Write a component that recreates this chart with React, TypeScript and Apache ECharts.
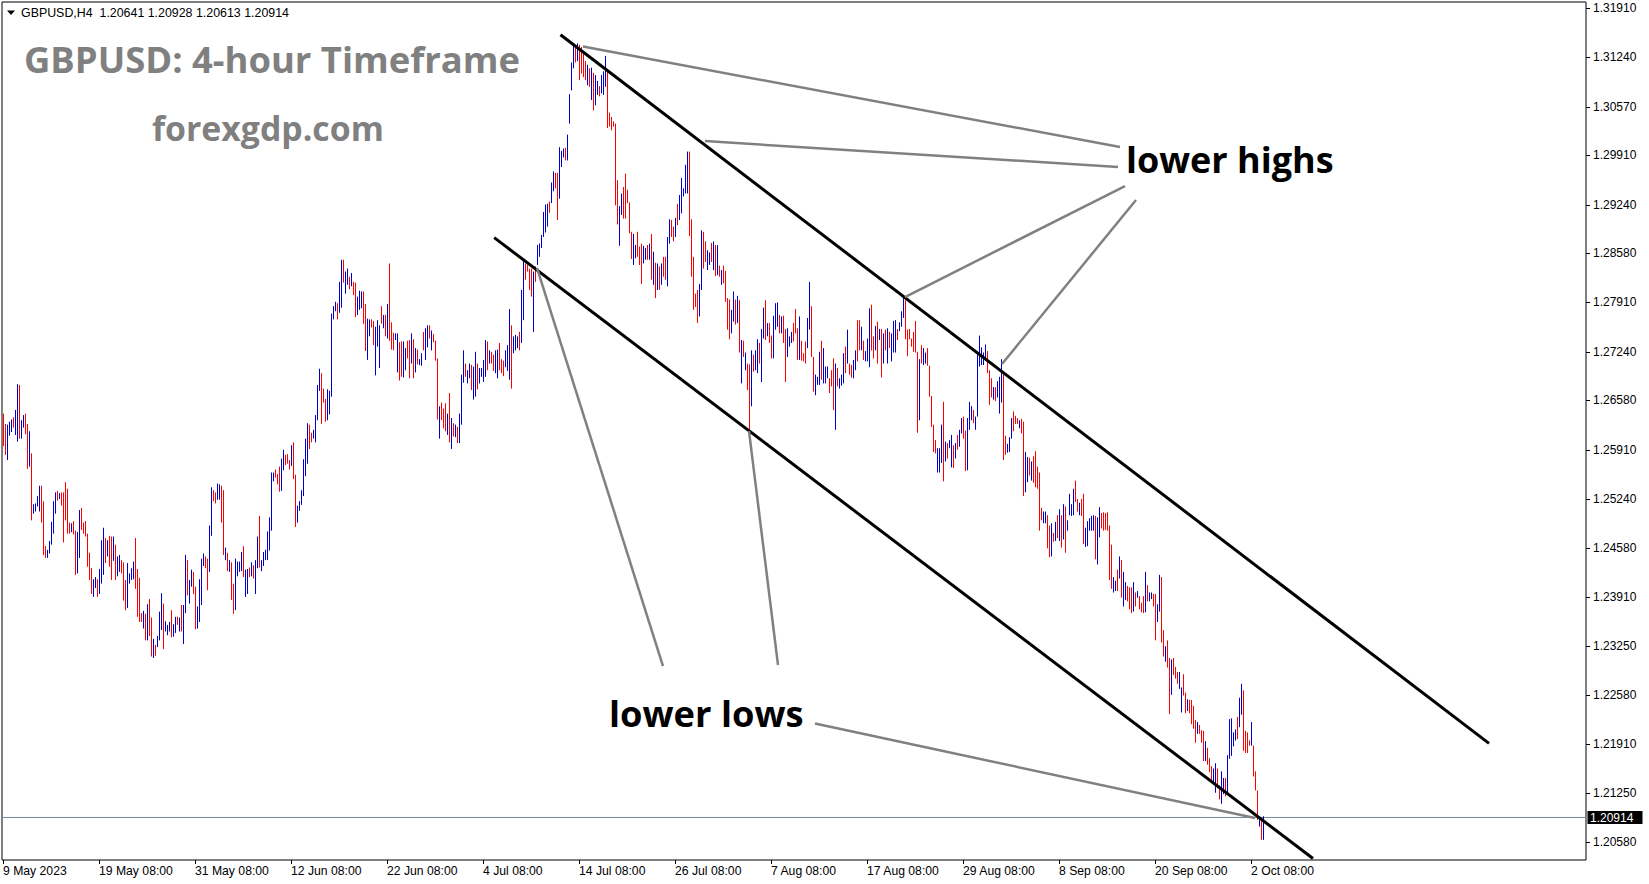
import React, { useEffect, useRef } from "react";
import * as echarts from "echarts";

// ---------- texts ----------
const SYMBOL = "GBPUSD,H4";
const HEADER_OHLC = ["1.20641", "1.20928", "1.20613", "1.20914"];
const TITLE = "GBPUSD: 4-hour Timeframe";
const SUBTITLE = "forexgdp.com";
const LABEL_HIGHS = "lower highs";
const LABEL_LOWS = "lower lows";

// ---------- price data (H4 bars, pips counted from PRICE_BASE) ----------
const PRICE_BASE = 1.2;
const PIP = 0.0001;

const highPips = [
  640, 626, 625, 629, 632, 635, 645, 680, 679, 631,
  638, 640, 626, 616, 586, 517, 518, 528, 542, 542,
  521, 460, 455, 467, 493, 521, 533, 535, 532, 533,
  533, 547, 538, 492, 491, 494, 481, 479, 509, 512,
  492, 494, 477, 451, 430, 415, 418, 415, 429, 468,
  485, 471, 468, 474, 473, 473, 462, 446, 448, 441,
  438, 414, 437, 423, 430, 439, 471, 429, 417, 369,
  372, 368, 381, 388, 363, 334, 326, 338, 371, 396,
  382, 358, 353, 357, 373, 354, 364, 364, 363, 380,
  380, 448, 441, 414, 428, 425, 405, 378, 415, 443,
  450, 446, 443, 488, 540, 536, 533, 545, 544, 542,
  536, 458, 451, 441, 438, 409, 443, 439, 439, 452,
  460, 428, 429, 431, 438, 434, 441, 473, 501, 441,
  452, 455, 480, 499, 560, 560, 564, 558, 568, 579,
  591, 584, 585, 577, 597, 601, 557, 515, 521, 536,
  578, 606, 627, 625, 614, 618, 638, 679, 701, 695,
  674, 660, 673, 671,
  776, 786, 792, 790, 819, 849, 849, 833, 837, 826,
  831, 819, 818, 799, 807, 806, 806, 789, 769, 768,
  768, 766, 758, 767, 760, 786, 774, 774, 789, 844,
  764, 750, 749, 749, 737, 738, 738, 729, 739, 740,
  749, 741, 729, 727, 714, 722, 751, 756, 760, 760,
  753, 748, 739, 715, 650, 655, 647, 654, 640, 668,
  634, 627, 625, 622, 640, 693, 726, 708, 699, 708,
  706, 704, 724, 708, 702, 702, 713, 740, 738, 726,
  724, 720, 726, 727, 736, 714, 712, 726, 733, 782,
  760, 745, 747, 745, 751, 808, 849, 844, 842, 837,
  837, 833, 840, 869, 871, 883, 914, 924, 925, 928,
  954, 969, 967, 967, 1002, 997, 1000, 1001, 1019, 1074,
  1117, 1142, 1139, 1143, 1141, 1138, 1129, 1119, 1114, 1109,
  1110, 1103, 1100, 1092, 1085, 1100, 1105, 1126, 1106, 1049,
  1043, 1037, 1034, 957, 922, 939, 948, 966, 944, 927,
  887, 884, 869, 887, 867, 871, 868, 865, 869, 871,
  884, 860, 845, 844, 840, 844, 853, 853, 880, 904,
  903, 894, 906, 925, 937, 960, 946, 978, 996, 996,
  904, 853, 803, 808, 816, 889, 887, 874, 862, 859,
  872, 874, 869, 869, 841, 835, 841, 834, 797, 795,
  781, 806, 795, 800, 794, 740, 739, 723, 708, 707,
  726, 720, 726, 741, 736, 755, 784, 794, 763, 763,
  746, 773, 790, 791, 774, 772, 773, 755, 756, 745,
  751, 763, 782, 756, 772, 739, 722, 738, 770, 819,
  786, 717, 693, 690, 724, 739, 729, 704, 704, 688,
  699, 715, 708, 702, 688, 693, 722, 731, 754, 708,
  706, 713, 726, 767, 767, 758, 739, 725, 742, 783,
  788, 745, 759, 765, 755, 755, 749, 754, 756, 751,
  749, 766, 767, 755, 764, 779, 797, 794, 754, 755,
  742, 751, 766, 724, 714, 733, 729, 723, 729, 705,
  664, 625, 604, 593, 593, 625, 656, 602, 600, 604,
  611, 597, 600, 611, 618,
  634, 636, 617, 634, 656, 650, 645, 636, 720, 746,
  730, 723, 734, 725, 699, 688, 676, 676, 684, 690,
  714, 697, 610, 599, 608, 634, 643, 637, 634, 631,
  633, 629, 588, 581, 580, 575, 582, 589, 568, 560,
  512, 507, 507, 502, 488, 491, 478, 493, 502, 510,
  502, 517, 514, 495, 531, 517, 538, 549, 524, 519,
  524, 531, 485, 494, 498, 501, 502, 501, 499, 513,
  505, 506, 505, 506, 488, 462, 418, 413, 428, 446,
  441, 425, 411, 406, 404, 404, 411, 397, 399, 392,
  383, 392, 425, 407, 397, 397, 395, 395, 381, 421,
  418, 346, 324, 332, 308, 306, 308, 296, 289, 289,
  268, 286, 261, 252, 251, 251, 243, 224, 221, 217,
  210, 209, 195, 186, 172, 161, 158, 165, 158, 135,
  154, 145, 145, 176, 225, 226, 207, 211, 228, 254,
  273, 264, 209, 207, 196, 221, 189, 154, 128, 93,
  90, 93,
];

const lowPips = [
  596, 584, 577, 610, 615, 621, 611, 602, 606, 606,
  621, 612, 565, 568, 495, 504, 507, 514, 507, 492,
  448, 444, 444, 450, 462, 477, 504, 522, 524, 515,
  465, 495, 477, 477, 479, 476, 421, 423, 444, 482,
  477, 473, 432, 414, 395, 391, 403, 391, 395, 409,
  421, 437, 446, 432, 414, 440, 414, 419, 425, 423,
  386, 373, 376, 409, 414, 415, 402, 364, 357, 357,
  348, 332, 332, 338, 310, 308, 311, 323, 332, 346,
  320, 344, 339, 344, 336, 337, 342, 353, 344, 344,
  327, 369, 393, 382, 405, 395, 347, 348, 357, 380,
  433, 430, 400, 425, 474, 521, 518, 523, 523, 492,
  448, 441, 426, 425, 387, 368, 373, 419, 425, 426,
  418, 391, 395, 418, 419, 416, 395, 430, 431, 426,
  433, 441, 441, 454, 481, 548, 553, 544, 534, 535,
  563, 570, 572, 564, 569, 551, 486, 492, 508, 516,
  528, 555, 572, 592, 601, 606, 601, 631, 671, 626,
  655, 629, 631, 639,
  663, 768, 779, 768, 777, 784, 818, 803, 815, 809,
  813, 801, 771, 774, 781, 783, 762, 725, 713, 745,
  757, 733, 692, 731, 702, 762, 756, 745, 742, 739,
  727, 726, 740, 696, 685, 690, 689, 699, 715, 688,
  708, 688, 696, 707, 706, 705, 726, 713, 730, 742,
  726, 737, 712, 632, 606, 631, 620, 616, 611, 601,
  592, 609, 608, 600, 600, 625, 682, 690, 681, 688,
  672, 659, 663, 673, 681, 690, 683, 690, 699, 708,
  708, 698, 695, 688, 699, 695, 691, 703, 698, 686,
  674, 722, 726, 729, 726, 736, 767, 822, 833, 808,
  799, 751, 819, 842, 853, 865, 880, 886, 894, 913,
  926, 942, 946, 903, 932, 975, 988, 984, 984, 1034,
  1079, 1109, 1117, 1119, 1093, 1102, 1097, 1093, 1086, 1084,
  1066, 1052, 1059, 1073, 1071, 1075, 1073, 1084, 1028, 1030,
  1025, 1030, 923, 897, 868, 910, 905, 905, 926, 885,
  850, 842, 851, 853, 842, 816, 844, 849, 849, 849,
  822, 815, 797, 808, 808, 815, 826, 822, 813, 871,
  880, 874, 880, 896, 903, 912, 935, 939, 939, 881,
  826, 781, 785, 763, 772, 808, 837, 846, 835, 842,
  846, 835, 827, 828, 826, 815, 817, 792, 754, 741,
  749, 765, 761, 763, 723, 681, 717, 699, 672, 618,
  650, 697, 699, 695, 708, 683, 742, 740, 745, 736,
  715, 715, 754, 758, 749, 749, 736, 683, 717, 731,
  736, 738, 749, 713, 713, 712, 711, 708, 729, 754,
  717, 670, 665, 679, 679, 686, 681, 681, 688, 668,
  677, 645, 618, 677, 674, 678, 681, 695, 708, 693,
  689, 688, 699, 711, 726, 726, 713, 711, 711, 703,
  726, 715, 726, 708, 740, 689, 708, 726, 708, 729,
  711, 723, 723, 740, 752, 758, 770, 741, 718, 741,
  731, 724, 723, 614, 631, 708, 706, 708, 705, 663,
  622, 588, 586, 560, 560, 573, 548, 575, 579, 593,
  567, 566, 579, 591, 595,
  613, 606, 562, 563, 618, 631, 627, 618, 636, 704,
  706, 706, 712, 695, 652, 662, 659, 657, 662, 640,
  655, 577, 584, 587, 588, 606, 616, 626, 626, 620,
  613, 528, 533, 547, 556, 549, 546, 540, 538, 481,
  495, 491, 491, 457, 445, 446, 466, 467, 471, 467,
  458, 469, 451, 481, 502, 501, 502, 520, 507, 502,
  501, 463, 459, 460, 481, 481, 481, 442, 435, 472,
  484, 481, 482, 481, 414, 402, 397, 399, 399, 416,
  390, 378, 387, 385, 374, 369, 371, 378, 390, 374,
  370, 369, 370, 385, 385, 388, 378, 332, 357, 371,
  329, 310, 303, 295, 232, 258, 285, 280, 273, 266,
  234, 257, 233, 236, 233, 218, 212, 193, 205, 205,
  193, 168, 168, 163, 153, 139, 137, 125, 131, 116,
  110, 123, 120, 122, 171, 175, 188, 196, 198, 214,
  231, 182, 179, 179, 189, 189, 147, 128, 88, 79,
  61, 61,
];

// u = bullish bar (blue), d = bearish bar (red)
const barDirs = [
  "dduuuduudu", "udduduuuud", "dduuuuudud", "ddddudduud", "ddddduuduu",
  "ududduduud", "dduuuudddd", "ududduduuu", "duuuduudud", "uuduudduuu",
  "udduudduud", "dududduuuu", "duududuudu", "uuuuuudddu", "udddudduuu",
  "uuudduuuud", "dduu",
  "uuuduuduud", "udduuudduu", "dduuududud", "dduudduudd", "ududuuduud",
  "udddudddud", "ududuuuduu", "duuduuuudu", "dduuddduuu", "duuuduuddd",
  "duduuuuuud", "uudduuuduu", "uududdddud", "uduuduuudd", "dddduudddd",
  "duuddduudu",
  "dudududduu", "dduduuuuud", "dddduudduu", "dudududddd", "uududududd",
  "uduuduudud", "duuududduu", "uddduddduu", "dduuuduuud", "dduduuudud",
  "duudduduuu", "ddudududud", "uuuduuuddd", "dddduduudd", "ddduuududu",
  "ududu",
  "udduuuduuu", "uuuddduduu", "udduuudddu", "dduududddd", "duuddududu",
  "duduuuuddu", "dduuuuuduu", "dddddduudu", "duudddudud", "dduduudduu",
  "dduddudddu", "udduddddud", "dduddduudd", "uuduuuuudu", "uddddudddu",
  "du",
].join("");

// ---------- axes ----------
const xTickLabels = [
  "9 May 2023", "19 May 08:00", "31 May 08:00", "12 Jun 08:00", "22 Jun 08:00",
  "4 Jul 08:00", "14 Jul 08:00", "26 Jul 08:00", "7 Aug 08:00", "17 Aug 08:00",
  "29 Aug 08:00", "8 Sep 08:00", "20 Sep 08:00", "2 Oct 08:00",
];
const BARS_PER_TICK = 48;
const TOTAL_SLOTS = 792;

const yTickLabels = [
  "1.31910", "1.31240", "1.30570", "1.29910", "1.29240", "1.28580",
  "1.27910", "1.27240", "1.26580", "1.25910", "1.25240", "1.24580",
  "1.23910", "1.23250", "1.22580", "1.21910", "1.21250", "1.20580",
];
const Y_MIN = 1.20336;
const Y_MAX = 1.31992;
const CURRENT_PRICE = 1.20914;

// ---------- drawn trend lines: [bar index, price] ----------
const channelUpper = [[278.75, 1.31547], [743, 1.2192]];
const channelLower = [[245.6, 1.28791], [655, 1.20356]];
const highPointers = [
  [[290, 1.31387], [558.5, 1.30022]],
  [[351, 1.30103], [557.5, 1.2975]],
  [[451, 1.27984], [561, 1.29492]],
  [[499.5, 1.27074], [566.5, 1.29302]],
];
const lowPointers = [
  [[267, 1.28378], [330, 1.22971]],
  [[373, 1.26163], [387.5, 1.22985]],
  [[406, 1.22191], [626, 1.20906]],
];

const RED = "#ff0000";
const BLUE = "#0000cd";
const GRAY = "#808080";
const BID_LINE = "#778899";
const AXIS_FONT = "'Liberation Sans', Arial, sans-serif";
const BIG_FONT = "'Open Sans', 'Noto Sans', sans-serif";

export default function App() {
  const ref = useRef<HTMLDivElement>(null);

  useEffect(() => {
    if (!ref.current) return;
    const chart = echarts.init(ref.current, null, { renderer: "svg" });

    const bars = highPips.map((h, i) => [
      i,
      PRICE_BASE + lowPips[i] * PIP,
      PRICE_BASE + h * PIP,
      barDirs[i] === "u" ? 1 : 0,
    ]);

    const xTickValues = xTickLabels.map((_, k) => k * BARS_PER_TICK);
    const yTickValues = yTickLabels.map((s) => parseFloat(s));

    const lineSeries = (data: number[][], color: string, width: number, z = 5) => ({
      type: "line",
      xAxisIndex: 0,
      yAxisIndex: 0,
      data,
      symbol: "none",
      silent: true,
      clip: true,
      lineStyle: { color, width },
      z,
    });

    const textGraphics: any[] = [
      {
        type: "polygon",
        silent: true,
        shape: { points: [[7, 10.5], [15, 10.5], [11, 15]] },
        style: { fill: "#000" },
      },
      {
        type: "text",
        silent: true,
        x: 21,
        y: 12.5,
        style: {
          text: `${SYMBOL}  ${HEADER_OHLC.join(" ")}`,
          fill: "#000",
          fontFamily: AXIS_FONT,
          fontSize: 12.4,
          textAlign: "left",
          textVerticalAlign: "middle",
        },
      },
      {
        type: "text",
        silent: true,
        x: 24,
        y: 59,
        style: {
          text: TITLE,
          fill: GRAY,
          fontFamily: BIG_FONT,
          fontWeight: "bold",
          fontSize: 36.4,
          textAlign: "left",
          textVerticalAlign: "middle",
        },
      },
      {
        type: "text",
        silent: true,
        x: 152,
        y: 128,
        style: {
          text: SUBTITLE,
          fill: GRAY,
          fontFamily: BIG_FONT,
          fontWeight: "bold",
          fontSize: 33.8,
          textAlign: "left",
          textVerticalAlign: "middle",
        },
      },
      {
        type: "text",
        silent: true,
        x: 1126,
        y: 159,
        style: {
          text: LABEL_HIGHS,
          fill: "#000",
          fontFamily: BIG_FONT,
          fontWeight: "bold",
          fontSize: 36,
          textAlign: "left",
          textVerticalAlign: "middle",
        },
      },
      {
        type: "text",
        silent: true,
        x: 609,
        y: 713,
        style: {
          text: LABEL_LOWS,
          fill: "#000",
          fontFamily: BIG_FONT,
          fontWeight: "bold",
          fontSize: 36.3,
          textAlign: "left",
          textVerticalAlign: "middle",
        },
      },
    ];

    const option: any = {
      animation: false,
      backgroundColor: "#ffffff",
      grid: {
        left: 2,
        top: 2,
        width: 1584,
        height: 858,
        show: true,
        borderColor: "#000",
        borderWidth: 1,
        backgroundColor: "transparent",
        containLabel: false,
      },
      xAxis: {
        type: "value",
        min: -0.5,
        max: TOTAL_SLOTS - 0.5,
        axisLine: { show: false },
        splitLine: { show: false },
        axisTick: { show: false },
        axisLabel: {
          show: true,
          customValues: xTickValues,
          formatter: (v: number) => xTickLabels[Math.round(v / BARS_PER_TICK)] ?? "",
          align: "left",
          margin: 5,
          color: "#000",
          fontFamily: AXIS_FONT,
          fontSize: 12.2,
        },
      },
      yAxis: {
        type: "value",
        position: "right",
        min: Y_MIN,
        max: Y_MAX,
        axisLine: { show: false },
        splitLine: { show: false },
        axisTick: { show: false },
        axisLabel: {
          show: true,
          customValues: yTickValues,
          formatter: (v: number) => v.toFixed(5),
          margin: 7,
          color: "#000",
          fontFamily: AXIS_FONT,
          fontSize: 12,
        },
      },
      series: [
        {
          type: "custom",
          data: bars,
          clip: true,
          silent: true,
          encode: { x: 0, y: [1, 2] },
          renderItem: (_params: any, api: any) => {
            const i = api.value(0);
            const lo = api.coord([i, api.value(1)]);
            const hi = api.coord([i, api.value(2)]);
            const x = Math.round(lo[0]) + 0.5;
            const y1 = lo[1];
            let y2 = hi[1];
            if (y1 - y2 < 1) y2 = y1 - 1;
            return {
              type: "line",
              shape: { x1: x, y1, x2: x, y2 },
              style: { stroke: api.value(3) ? BLUE : RED, lineWidth: 1 },
            };
          },
          z: 2,
        },
        lineSeries([[-0.5, CURRENT_PRICE], [TOTAL_SLOTS - 0.5, CURRENT_PRICE]], BID_LINE, 1, 1),
        lineSeries(channelUpper, "#000", 3),
        lineSeries(channelLower, "#000", 3),
        ...highPointers.map((d) => lineSeries(d, GRAY, 2.5)),
        ...lowPointers.map((d) => lineSeries(d, GRAY, 2.5)),
      ],
      graphic: textGraphics,
    };

    chart.setOption(option);

    // axis ticks and the bid-price tag, placed through the chart's own scales
    const rightX = chart.convertToPixel({ xAxisIndex: 0 }, TOTAL_SLOTS - 0.5) as number;
    const bottomY = chart.convertToPixel({ yAxisIndex: 0 }, Y_MIN) as number;
    const tickGraphics: any[] = [];
    yTickValues.forEach((v) => {
      const y = Math.round(chart.convertToPixel({ yAxisIndex: 0 }, v) as number) + 0.5;
      tickGraphics.push({
        type: "line",
        silent: true,
        shape: { x1: rightX, y1: y, x2: rightX + 4, y2: y },
        style: { stroke: "#000", lineWidth: 1 },
      });
    });
    xTickValues.forEach((v) => {
      const x = Math.round(chart.convertToPixel({ xAxisIndex: 0 }, v) as number) + 0.5;
      tickGraphics.push({
        type: "line",
        silent: true,
        shape: { x1: x, y1: bottomY, x2: x, y2: bottomY + 4 },
        style: { stroke: "#000", lineWidth: 1 },
      });
    });
    const bidY = chart.convertToPixel({ yAxisIndex: 0 }, CURRENT_PRICE) as number;
    tickGraphics.push({
      type: "rect",
      silent: true,
      shape: { x: rightX + 1.5, y: bidY - 6.5, width: 55, height: 13 },
      style: { fill: "#000" },
      z: 10,
    });
    tickGraphics.push({
      type: "text",
      silent: true,
      x: rightX + 4,
      y: bidY + 0.5,
      style: {
        text: CURRENT_PRICE.toFixed(5),
        fill: "#fff",
        fontFamily: AXIS_FONT,
        fontSize: 12,
        textAlign: "left",
        textVerticalAlign: "middle",
      },
      z: 11,
    });

    chart.setOption({ graphic: [...textGraphics, ...tickGraphics] });

    return () => chart.dispose();
  }, []);

  return (
    <div
      ref={ref}
      style={{
        position: "fixed",
        left: 0,
        top: 0,
        width: 1649,
        height: 884,
        background: "#fff",
      }}
    />
  );
}
